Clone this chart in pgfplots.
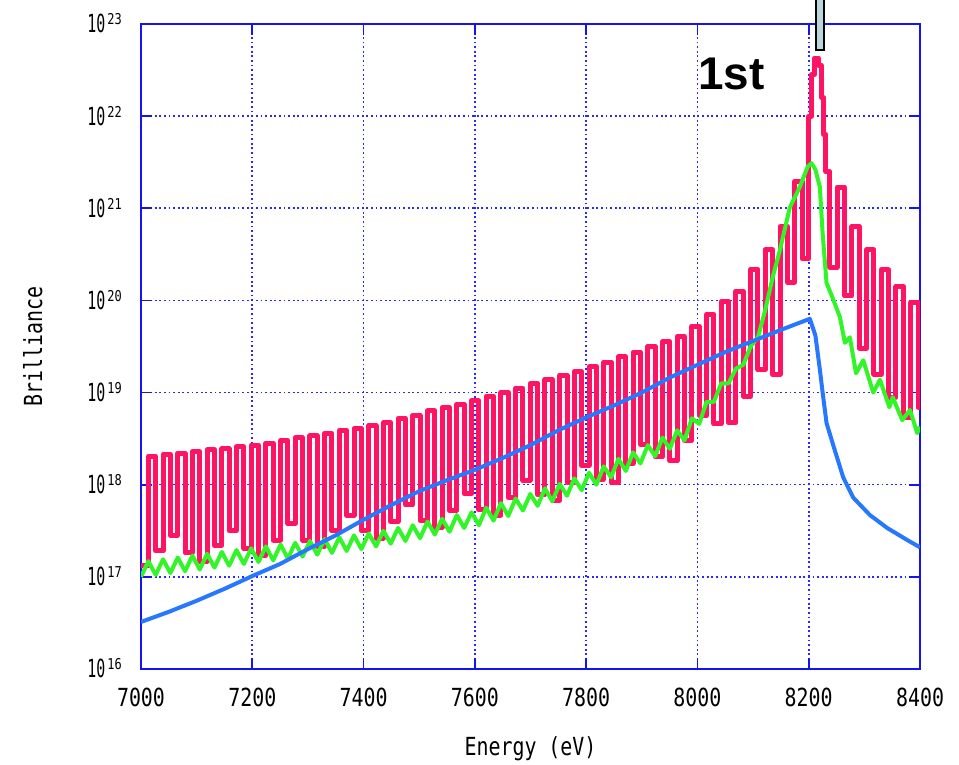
\documentclass[border=0pt]{standalone}
\usepackage{fontspec}
\usepackage{pgfplots}
\pgfplotsset{compat=1.18}
\setmainfont[FakeStretch=0.8]{DejaVu Sans Mono}
\newfontfamily\ylab[FakeStretch=0.6]{DejaVu Sans Mono}
\newfontfamily\arialfont{Liberation Sans}
\definecolor{frameblue}{RGB}{20,20,235}
\definecolor{gridblue}{RGB}{40,40,255}
\definecolor{redline}{RGB}{255,20,100}
\definecolor{greenline}{RGB}{50,245,40}
\definecolor{blueline}{RGB}{40,120,255}
\definecolor{barfill}{RGB}{185,215,220}
\newcommand\tenexp[1]{{\ylab 10}\hspace{2bp}\raisebox{8bp}{\fontsize{15}{15}\selectfont #1}}

\begin{document}
\begin{tikzpicture}
\path[use as bounding box, fill=white] (0,0) rectangle (959bp,765bp);
\begin{axis}[
    at={(141bp,96bp)}, anchor=south west,
    width=779bp, height=645bp, scale only axis,
    xmin=7000, xmax=8400, ymode=log, ymin=1e16, ymax=1e23,
    xtick={7000,7200,7400,7600,7800,8000,8200,8400},
    xticklabels={7000,7200,7400,7600,7800,8000,8200,8400},
    ytick={1e16,1e17,1e18,1e19,1e20,1e21,1e22,1e23},
    yticklabels={\tenexp{16},\tenexp{17},\tenexp{18},\tenexp{19},\tenexp{20},\tenexp{21},\tenexp{22},\tenexp{23}},
    yminorticks=false,
    xticklabel style={font=\fontsize{25}{25}\selectfont, anchor=north, inner sep=0pt, yshift=-19bp},
    yticklabel style={font=\fontsize{25}{25}\selectfont, anchor=base east, inner sep=0pt, xshift=-19bp, yshift=-9bp},
    xlabel={Energy (eV)}, ylabel={Brilliance},
    xlabel style={font=\fontsize{25}{25}\selectfont, at={(axis description cs:0.5,-0.1349)}, anchor=base, inner sep=0pt},
    ylabel style={font=\fontsize{25}{25}\selectfont, at={(axis description cs:-0.127,0.5)}, anchor=base, inner sep=0pt},
    axis line style={frameblue, line width=2bp},
    every tick/.style={frameblue, line width=1.8bp},
    major tick length=11bp,
    grid=major,
    grid style={gridblue, line width=1.6bp, dash pattern=on 1.8bp off 2.8bp},
]
% red: strongly modulated spectrum
\addplot[const plot, redline, line width=5bp, line join=round] coordinates {
(7000.0,1.32e17) (7013.2,2.04e18) (7026.4,1.91e17) (7039.6,2.14e18) (7052.8,2.82e17)
(7066.0,2.19e18) (7079.2,1.82e17) (7092.4,2.29e18) (7105.6,1.48e17) (7118.8,2.40e18)
(7132.0,2.19e17) (7145.2,2.45e18) (7158.4,3.16e17) (7171.6,2.57e18) (7184.8,2.04e17)
(7198.0,2.69e18) (7211.2,1.70e17) (7224.4,2.82e18) (7237.6,2.51e17) (7250.8,3.02e18)
(7264.0,3.80e17) (7277.2,3.24e18) (7290.4,2.51e17) (7303.6,3.39e18) (7316.8,2.14e17)
(7330.0,3.63e18) (7343.2,3.16e17) (7356.4,3.89e18) (7369.6,4.68e17) (7382.8,4.07e18)
(7396.0,3.16e17) (7409.2,4.37e18) (7422.4,2.63e17) (7435.6,4.68e18) (7448.8,3.98e17)
(7462.0,5.25e18) (7475.2,6.03e17) (7488.4,5.62e18) (7501.6,4.07e17) (7514.8,6.31e18)
(7528.0,3.47e17) (7541.2,6.92e18) (7554.4,5.25e17) (7567.6,7.41e18) (7580.8,7.94e17)
(7594.0,8.13e18) (7607.2,5.37e17) (7620.4,9.12e18) (7633.6,4.68e17) (7646.8,1.00e19)
(7660.0,7.24e17) (7673.2,1.12e19) (7686.4,1.12e18) (7699.6,1.26e19) (7712.8,7.76e17)
(7726.0,1.38e19) (7739.2,6.76e17) (7752.4,1.55e19) (7765.6,1.05e18) (7778.8,1.70e19)
(7792.0,1.62e18) (7805.2,1.91e19) (7818.4,1.15e18) (7831.6,2.14e19) (7844.8,1.05e18)
(7858.0,2.45e19) (7871.2,1.70e18) (7884.4,2.75e19) (7897.6,2.75e18) (7910.8,3.16e19)
(7924.0,2.00e18) (7937.2,3.55e19) (7950.4,1.82e18) (7963.6,4.07e19) (7976.8,3.02e18)
(7990.0,5.25e19) (8003.2,5.62e18) (8016.4,7.08e19) (8029.6,4.57e18) (8042.8,9.77e19)
(8056.0,4.68e18) (8069.2,1.26e20) (8082.4,9.12e18) (8095.6,2.19e20) (8108.8,1.78e19)
(8122.0,3.55e20) (8135.2,1.58e19) (8148.4,6.31e20) (8161.6,1.58e20) (8174.8,1.95e21)
(8188.0,2.82e20) (8200.0,1.00e22) (8205.0,2.82e22) (8210.0,4.27e22) (8218.0,3.55e22)
(8223.0,1.58e22) (8227.0,6.31e21) (8231.0,2.51e21) (8238.0,2.29e20) (8251.2,1.70e21)
(8264.4,1.12e20) (8277.6,6.31e20) (8290.8,3.02e19) (8304.0,3.55e20) (8317.2,1.58e19)
(8330.4,2.14e20) (8343.6,8.91e18) (8356.8,1.41e20) (8370.0,5.37e18) (8383.2,9.55e19)
(8396.4,6.92e18) (8400.0,6.92e18)
};
% green
\addplot[greenline, line width=4bp, line join=round] coordinates {
(7000.0,1.00e17) (7013.2,1.48e17) (7026.4,1.05e17) (7039.6,1.55e17) (7052.8,1.10e17)
(7066.0,1.62e17) (7079.2,1.15e17) (7092.4,1.70e17) (7105.6,1.20e17) (7118.8,1.78e17)
(7132.0,1.26e17) (7145.2,1.86e17) (7158.4,1.32e17) (7171.6,1.95e17) (7184.8,1.38e17)
(7198.0,2.04e17) (7211.2,1.45e17) (7224.4,2.14e17) (7237.6,1.51e17) (7250.8,2.24e17)
(7264.0,1.58e17) (7277.2,2.34e17) (7290.4,1.66e17) (7303.6,2.45e17) (7316.8,1.74e17)
(7330.0,2.57e17) (7343.2,1.82e17) (7356.4,2.69e17) (7369.6,1.91e17) (7382.8,2.82e17)
(7396.0,2.00e17) (7409.2,2.95e17) (7422.4,2.14e17) (7435.6,3.16e17) (7448.8,2.29e17)
(7462.0,3.39e17) (7475.2,2.45e17) (7488.4,3.63e17) (7501.6,2.63e17) (7514.8,3.98e17)
(7528.0,2.88e17) (7541.2,4.27e17) (7554.4,3.09e17) (7567.6,4.68e17) (7580.8,3.39e17)
(7594.0,5.01e17) (7607.2,3.63e17) (7620.4,5.62e17) (7633.6,4.07e17) (7646.8,6.31e17)
(7660.0,4.57e17) (7673.2,7.08e17) (7686.4,5.25e17) (7699.6,7.94e17) (7712.8,5.89e17)
(7726.0,9.12e17) (7739.2,6.61e17) (7752.4,1.02e18) (7765.6,7.59e17) (7778.8,1.17e18)
(7792.0,8.71e17) (7805.2,1.35e18) (7818.4,1.00e18) (7831.6,1.58e18) (7844.8,1.20e18)
(7858.0,1.91e18) (7871.2,1.41e18) (7884.4,2.24e18) (7897.6,1.70e18) (7910.8,2.69e18)
(7924.0,2.04e18) (7937.2,3.24e18) (7950.4,2.45e18) (7963.6,3.89e18) (7976.8,3.02e18)
(7990.0,5.25e18) (8003.2,4.57e18) (8016.4,7.94e18) (8029.6,7.94e18) (8042.8,1.26e19)
(8056.0,1.26e19) (8069.2,1.82e19) (8082.4,2.00e19) (8095.6,3.16e19) (8108.8,3.98e19)
(8122.0,7.94e19) (8135.2,1.78e20) (8148.4,3.55e20) (8166.0,1.02e21) (8184.0,1.70e21)
(8198.0,2.82e21) (8205.0,3.09e21) (8212.0,2.63e21) (8220.0,1.70e21) (8225.0,5.37e20)
(8232.0,1.55e20) (8242.0,1.10e20) (8256.0,6.61e19) (8265.0,3.47e19) (8274.0,3.98e19)
(8285.0,1.62e19) (8298.0,2.24e19) (8316.0,1.00e19) (8328.0,1.38e19) (8345.0,6.92e18)
(8351.0,8.91e18) (8368.0,5.01e18) (8382.0,6.46e18) (8395.0,3.63e18) (8400.0,4.27e18)
};
% blue
\addplot[blueline, line width=4bp, line join=round] coordinates {
(7000,3.24e16) (7050,4.17e16) (7100,5.50e16) (7150,7.41e16) (7200,1.02e17)
(7250,1.38e17) (7300,2.00e17) (7350,2.82e17) (7400,4.17e17) (7450,6.03e17)
(7500,8.51e17) (7550,1.12e18) (7600,1.45e18) (7650,1.95e18) (7700,2.69e18)
(7750,3.89e18) (7800,5.37e18) (7850,7.24e18) (7900,1.00e19) (7950,1.45e19)
(8000,2.00e19) (8050,2.75e19) (8100,3.63e19) (8150,4.79e19) (8202,6.31e19)
(8212,4.17e19) (8220,1.78e19) (8225,1.00e19) (8232,4.68e18) (8245,2.57e18)
(8262,1.20e18) (8280,7.24e17) (8310,4.68e17) (8341,3.39e17) (8377,2.51e17)
(8400,2.09e17)
};
\end{axis}
\node[anchor=base west, inner sep=0pt, font=\arialfont\bfseries\fontsize{46}{46}\selectfont] at (698bp,675bp) {1st};
\draw[fill=barfill, draw=black, line width=1.5bp] (816bp,715bp) rectangle (824bp,770bp);
\end{tikzpicture}
\end{document}
